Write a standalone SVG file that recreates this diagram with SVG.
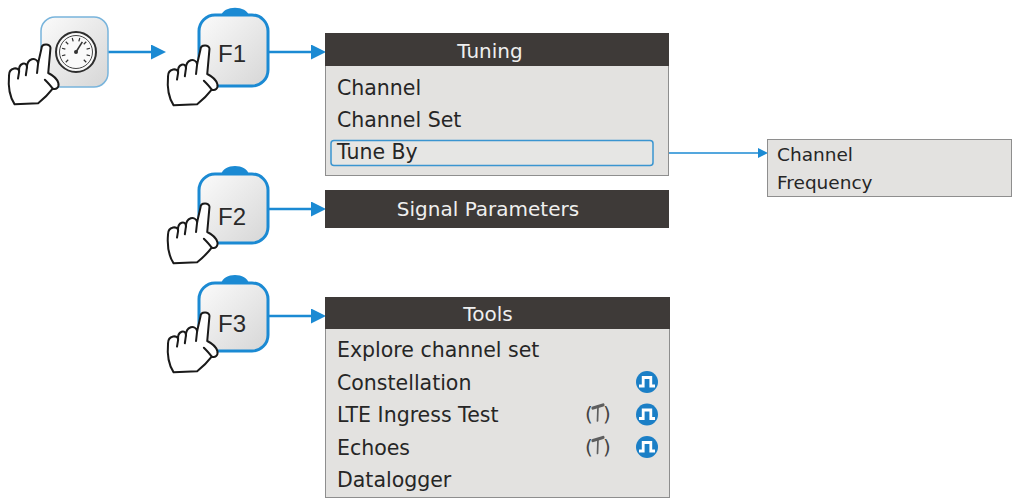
<svg xmlns="http://www.w3.org/2000/svg" width="1013" height="501" viewBox="0 0 1013 501">
  <style>
    .menu { fill: #e3e2e0; stroke: #8e8e8e; stroke-width: 1; }
    .head { fill: #3e3a38; }
    .head-t { font-family: "DejaVu Sans", sans-serif; font-size: 20px; fill: #efefef; text-anchor: middle; }
    .item { font-family: "DejaVu Sans", sans-serif; font-size: 20.5px; fill: #262626; }
    .sub { font-family: "DejaVu Sans", sans-serif; font-size: 18.5px; fill: #262626; }
    .paren { font-family: "DejaVu Sans", sans-serif; font-size: 20px; fill: #444; }
    .key { fill: url(#keyFill); stroke: #1b8ad3; stroke-width: 3; }
    .bump { fill: #1b8ad3; }
    .key-t { font-family: "Liberation Sans", Arial, sans-serif; font-size: 24px; fill: #2a2a2a; text-anchor: middle; }
    .hand { fill: #ffffff; stroke: #1a1a1a; stroke-width: 1.8; stroke-linejoin: round; stroke-linecap: round; }
    .hand-line { fill: none; stroke: #1a1a1a; stroke-width: 1.8; stroke-linecap: round; }
    .conn { fill: none; stroke: #1b8ad3; stroke-width: 2.5; }
    .conn-thin { fill: none; stroke: #1b8ad3; stroke-width: 1.5; }
    .pulse-bg { fill: #1b7fc6; }
    .pulse { fill: none; stroke: #ffffff; stroke-width: 2.8; stroke-linejoin: miter; }
  </style>
  <defs>
    <linearGradient id="keyFill" x1="0" y1="0" x2="1" y2="1">
      <stop offset="0" stop-color="#fbfbfb"/>
      <stop offset="1" stop-color="#d6d6d6"/>
    </linearGradient>
    <marker id="arrowBig" markerUnits="userSpaceOnUse" markerWidth="16" markerHeight="16" refX="6" refY="7.5" orient="auto">
      <path d="M0,0 L15,7.5 L0,15 Z" fill="#1b8ad3"/>
    </marker>
    <marker id="arrowSmall" markerUnits="userSpaceOnUse" markerWidth="11" markerHeight="11" refX="4" refY="5" orient="auto">
      <path d="M0,0 L10,5 L0,10 Z" fill="#1b8ad3"/>
    </marker>
    <!-- pointing hand, fingertip at the origin -->
    <g id="hand" transform="scale(1.12)">
      <path class="hand" d="M -4,3 C -4,-1.5 4,-1.5 4,2.5 L 2,25 C 6,27 10,30 11,34 C 12,38 9,40 6,39 C 3,43 -2,48 -7,52 L -28,53 C -32,47 -34,38 -33,27 C -33,20 -24,19 -24,24 C -25,16 -17,14 -17,20 C -17,12 -9,10 -7,16 Z"/>
      <path class="hand-line" d="M -24,24 L -25,30 M -17,20 L -18,27 M -7,16 L -8,25 M 6,39 C 4,36 1,33 -1,31"/>
    </g>
    <!-- pulse badge -->
    <g id="pulse">
      <circle class="pulse-bg" r="11"/>
      <path class="pulse" d="M -8,4 H -3.8 V -4.5 H 3.8 V 4 H 8"/>
    </g>
    <!-- hammer glyph inside parentheses -->
    <g id="hammer">
      <path d="M -5,-6 L 5,-9" fill="none" stroke="#5e5e5e" stroke-width="3.2" stroke-linecap="round"/>
      <path d="M 0,-7.5 L -0.5,7" fill="none" stroke="#5e5e5e" stroke-width="1.7" stroke-linecap="round"/>
    </g>
  </defs>

  <!-- connectors -->
  <g id="connectors">
    <line class="conn" x1="108" y1="52" x2="157" y2="52" marker-end="url(#arrowBig)"/>
    <line class="conn" x1="269" y1="52" x2="317" y2="52" marker-end="url(#arrowBig)"/>
    <line class="conn" x1="269" y1="209" x2="317" y2="209" marker-end="url(#arrowBig)"/>
    <line class="conn" x1="269" y1="316" x2="317" y2="316" marker-end="url(#arrowBig)"/>
    <line class="conn-thin" x1="653" y1="153" x2="762" y2="153" marker-end="url(#arrowSmall)"/>
  </g>

  <!-- meter key -->
  <g id="meter-key">
    <rect x="41" y="17" width="67" height="70" rx="14" fill="url(#keyFill)" stroke="#78b4dc" stroke-width="1.5"/>
    <circle cx="76" cy="52" r="20" fill="#fafafa" stroke="#2e2e2e" stroke-width="2"/>
    <circle cx="76" cy="52" r="16.5" fill="none" stroke="#444" stroke-width="1"/>
    <g transform="translate(76,52)" stroke="#333" stroke-width="1.2">
      <line x1="0" y1="-11" x2="0" y2="-14.5" transform="rotate(-135)"/>
      <line x1="0" y1="-11" x2="0" y2="-14.5" transform="rotate(-105)"/>
      <line x1="0" y1="-11" x2="0" y2="-14.5" transform="rotate(-75)"/>
      <line x1="0" y1="-11" x2="0" y2="-14.5" transform="rotate(-45)"/>
      <line x1="0" y1="-11" x2="0" y2="-14.5" transform="rotate(-15)"/>
      <line x1="0" y1="-11" x2="0" y2="-14.5" transform="rotate(15)"/>
      <line x1="0" y1="-11" x2="0" y2="-14.5" transform="rotate(45)"/>
      <line x1="0" y1="-11" x2="0" y2="-14.5" transform="rotate(75)"/>
      <line x1="0" y1="-11" x2="0" y2="-14.5" transform="rotate(105)"/>
      <line x1="0" y1="-11" x2="0" y2="-14.5" transform="rotate(135)"/>
      <line x1="0" y1="0" x2="0" y2="-12" stroke-width="1.6" transform="rotate(32)"/>
    </g>
    <circle cx="76" cy="52" r="2" fill="#333"/>
    <use href="#hand" transform="translate(46,45)"/>
  </g>

  <!-- F1 key -->
  <g id="key-f1">
    <path class="bump" d="M 221,16 C 223,5 247,5 249,16 Z"/>
    <rect class="key" x="199" y="15" width="69" height="71" rx="16"/>
    <text class="key-t" x="232" y="62">F1</text>
    <use href="#hand" transform="translate(205,46)"/>
  </g>

  <!-- F2 key -->
  <g id="key-f2">
    <path class="bump" d="M 221,175 C 223,163 247,163 249,175 Z"/>
    <rect class="key" x="199" y="174" width="69" height="69" rx="16"/>
    <text class="key-t" x="232" y="225">F2</text>
    <use href="#hand" transform="translate(205,204)"/>
  </g>

  <!-- F3 key -->
  <g id="key-f3">
    <path class="bump" d="M 221,284 C 223,272 247,272 249,284 Z"/>
    <rect class="key" x="199" y="283" width="69" height="68" rx="16"/>
    <text class="key-t" x="232" y="332">F3</text>
    <use href="#hand" transform="translate(205,313)"/>
  </g>

  <!-- Tuning menu -->
  <g id="menu-tuning">
    <rect class="menu" x="325.5" y="33.5" width="343" height="142"/>
    <rect class="head" x="325" y="33" width="344" height="33"/>
    <text class="head-t" x="490" y="58">Tuning</text>
    <text class="item" x="337" y="95">Channel</text>
    <text class="item" x="337" y="126.5">Channel Set</text>
    <rect x="331" y="140.5" width="322" height="25" rx="3" fill="#e6e6e4" stroke="#3a95d0" stroke-width="1.5"/>
    <text class="item" x="337" y="158.5">Tune By</text>
  </g>

  <!-- Tune By options -->
  <g id="menu-tune-by">
    <rect class="menu" x="767.5" y="139.5" width="244" height="57"/>
    <text class="sub" x="777" y="161">Channel</text>
    <text class="sub" x="777" y="189">Frequency</text>
  </g>

  <!-- Signal Parameters bar -->
  <g id="menu-signal">
    <rect class="head" x="325" y="190" width="344" height="38"/>
    <text class="head-t" x="488" y="216">Signal Parameters</text>
  </g>

  <!-- Tools menu -->
  <g id="menu-tools">
    <rect class="menu" x="325.5" y="297.5" width="344" height="200"/>
    <rect class="head" x="325" y="297" width="345" height="32"/>
    <text class="head-t" x="488" y="321">Tools</text>
    <text class="item" x="337" y="357">Explore channel set</text>
    <text class="item" x="337" y="389.5">Constellation</text>
    <text class="item" x="337" y="422">LTE Ingress Test</text>
    <text class="item" x="337" y="454.5">Echoes</text>
    <text class="item" x="337" y="487">Datalogger</text>
    <use href="#pulse" transform="translate(647,382)"/>
    <text class="paren" x="585" y="421">(</text>
    <use href="#hammer" transform="translate(598,414)"/>
    <text class="paren" x="603" y="421">)</text>
    <use href="#pulse" transform="translate(647,414.5)"/>
    <text class="paren" x="585" y="453.5">(</text>
    <use href="#hammer" transform="translate(598,446.5)"/>
    <text class="paren" x="603" y="453.5">)</text>
    <use href="#pulse" transform="translate(647,447)"/>
  </g>
</svg>
